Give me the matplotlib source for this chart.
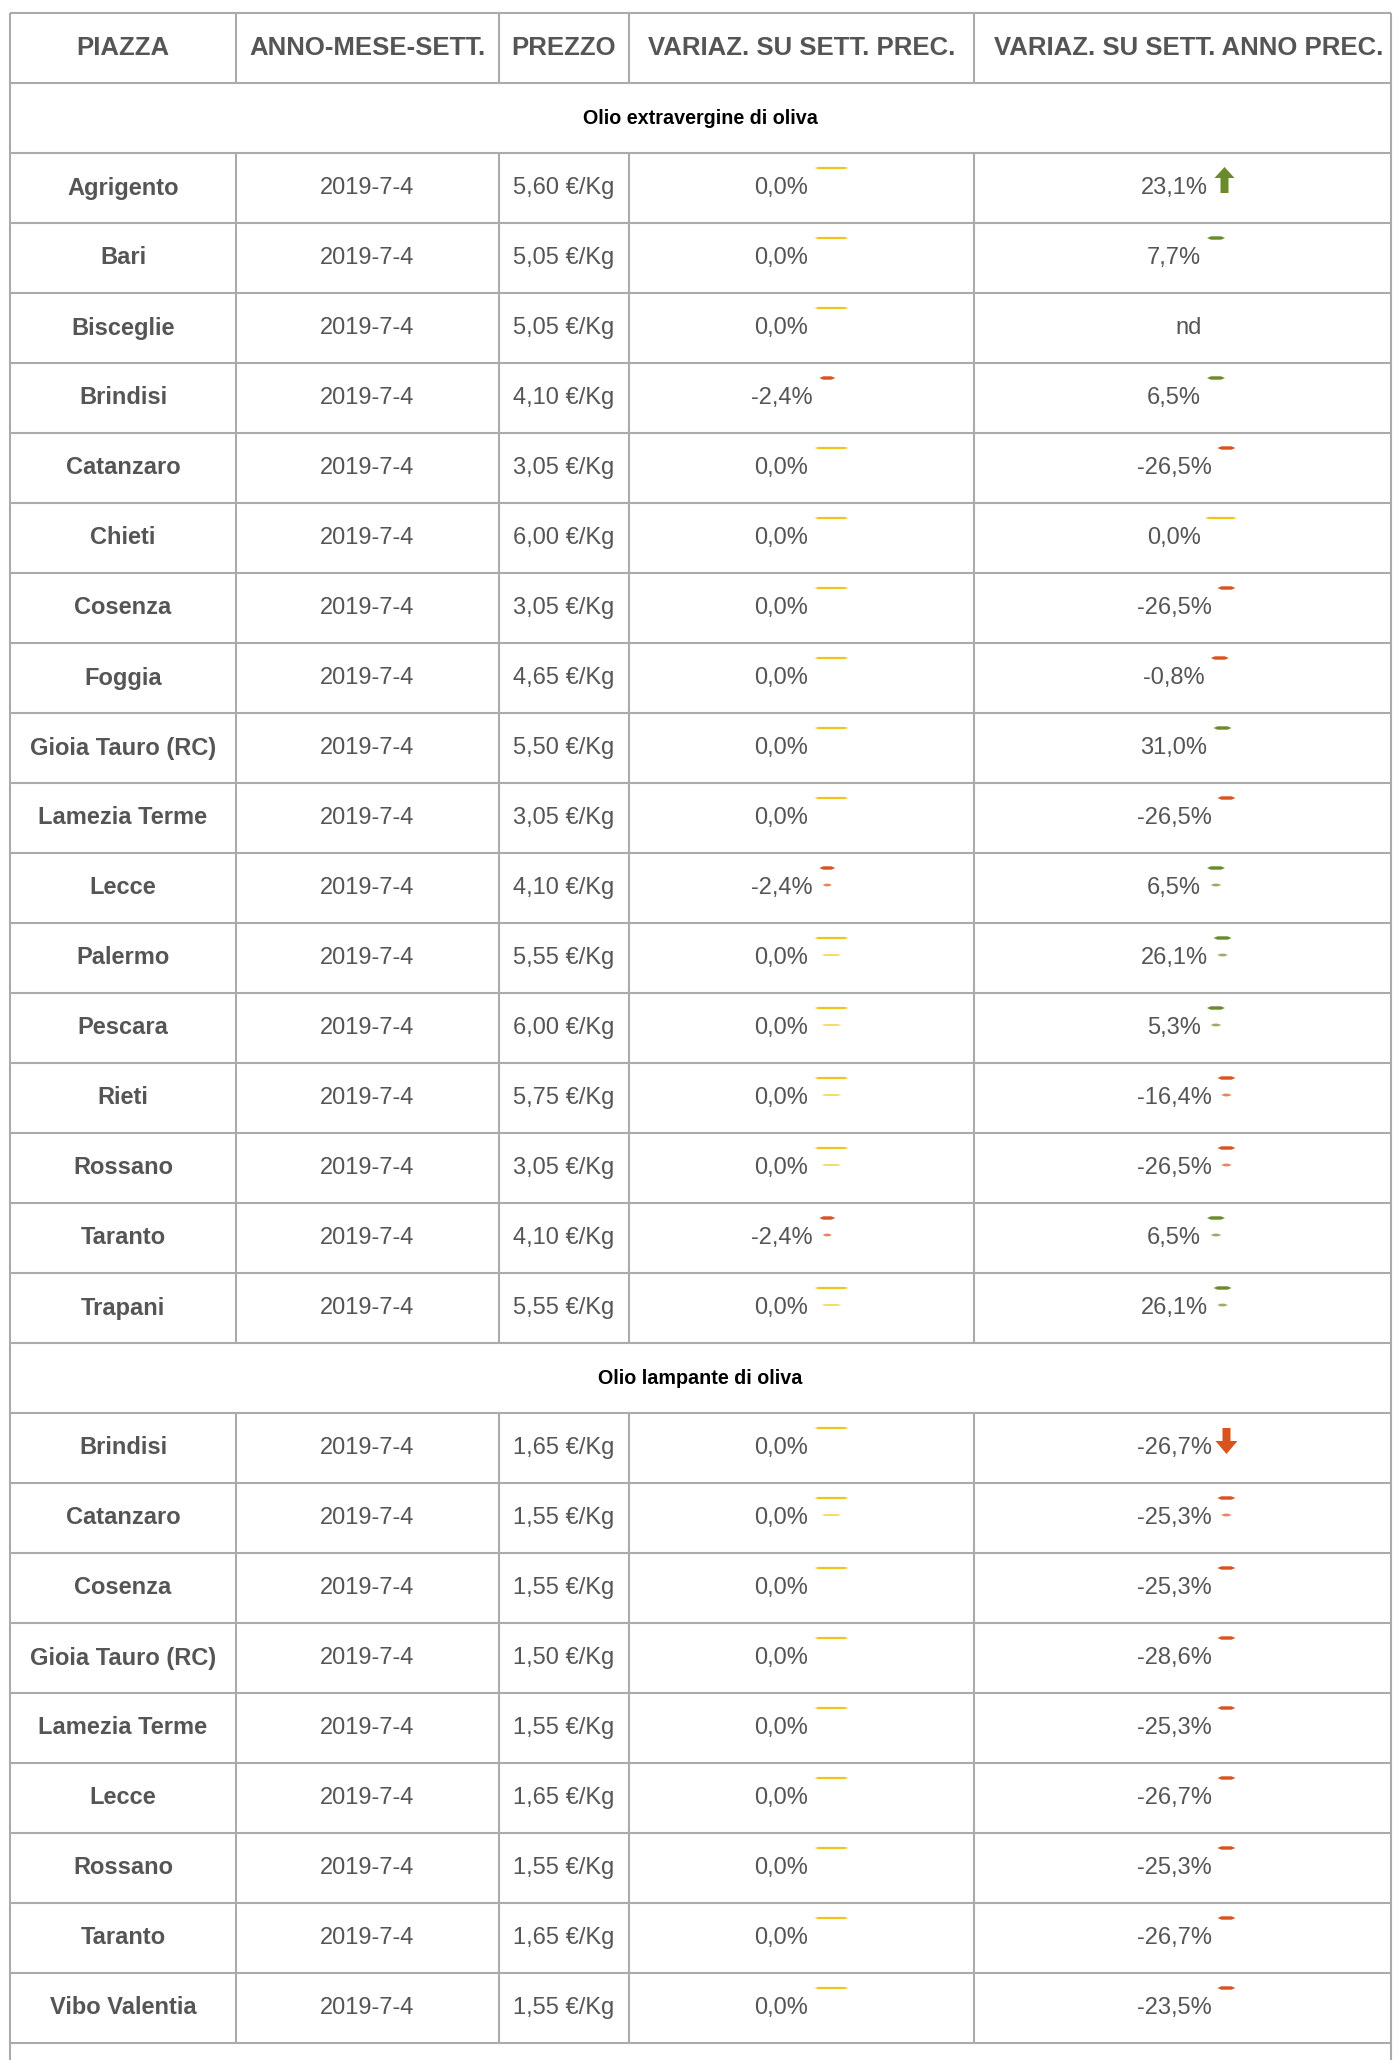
import matplotlib
matplotlib.use("Agg")
import matplotlib.pyplot as plt
from matplotlib.patches import Polygon

# column headers and section titles
intestazioni = ["PIAZZA", "ANNO-MESE-SETT.", "PREZZO",
                "VARIAZ. SU SETT. PREC.", "VARIAZ. SU SETT. ANNO PREC."]
sezioni = ["Olio extravergine di oliva", "Olio lampante di oliva"]
settimana = "2019-7-4"

# Olio extravergine di oliva
piazze_extra = ["Agrigento", "Bari", "Bisceglie", "Brindisi", "Catanzaro", "Chieti",
                "Cosenza", "Foggia", "Gioia Tauro (RC)", "Lamezia Terme", "Lecce",
                "Palermo", "Pescara", "Rieti", "Rossano", "Taranto", "Trapani"]
prezzi_extra = ["5,60", "5,05", "5,05", "4,10", "3,05", "6,00", "3,05", "4,65", "5,50",
                "3,05", "4,10", "5,55", "6,00", "5,75", "3,05", "4,10", "5,55"]
var_sett_extra = ["0,0%", "0,0%", "0,0%", "-2,4%", "0,0%", "0,0%", "0,0%", "0,0%", "0,0%",
                  "0,0%", "-2,4%", "0,0%", "0,0%", "0,0%", "0,0%", "-2,4%", "0,0%"]
var_anno_extra = ["23,1%", "7,7%", "nd", "6,5%", "-26,5%", "0,0%", "-26,5%", "-0,8%",
                  "31,0%", "-26,5%", "6,5%", "26,1%", "5,3%", "-16,4%", "-26,5%",
                  "6,5%", "26,1%"]

# Olio lampante di oliva
piazze_lamp = ["Brindisi", "Catanzaro", "Cosenza", "Gioia Tauro (RC)", "Lamezia Terme",
               "Lecce", "Rossano", "Taranto", "Vibo Valentia"]
prezzi_lamp = ["1,65", "1,55", "1,55", "1,50", "1,55", "1,65", "1,55", "1,65", "1,55"]
var_sett_lamp = ["0,0%"] * 9
var_anno_lamp = ["-26,7%", "-25,3%", "-25,3%", "-28,6%", "-25,3%", "-26,7%", "-25,3%",
                 "-26,7%", "-23,5%"]

# rows whose indicator icon is shown as a full arrow / as a doubled dash (style only)
freccia_piena = [(0, "Agrigento"), (1, "Brindisi")]
doppio_trattino = [(0, "Lecce"), (0, "Palermo"), (0, "Pescara"), (0, "Rieti"),
                   (0, "Rossano"), (0, "Taranto"), (0, "Trapani"), (1, "Catanzaro")]

plt.rcParams['font.family'] = ['Liberation Sans', 'DejaVu Sans']

GRAY = "#555555"
LINE = "#ababab"
YELLOW = "#f0c419"
GREEN = "#6b8a2b"
RED = "#d9531e"

W, H = 1394, 2060
fig = plt.figure(figsize=(W / 100, H / 100), dpi=100)
ax = fig.add_axes([0, 0, 1, 1])
ax.set_xlim(0, W)
ax.set_ylim(H, 0)
ax.axis("off")
renderer = fig.canvas.get_renderer()

xcols = [10, 236, 499, 629, 974, 1391]
centers = [123, 367.5, 564, 801.5, 1189]
img_w = [None, None, None, 40, 30]
top, rh = 13, 70
lw = 1.5


def hline(y):
    ax.plot([xcols[0], xcols[-1]], [y, y], color=LINE, lw=lw, solid_capstyle="butt")


def vlines(y0, y1):
    for x in xcols[1:-1]:
        ax.plot([x, x], [y0, y1], color=LINE, lw=lw, solid_capstyle="butt")


def trattino(xa, xb, y, t, color, alpha=1.0):
    # small lens-shaped dash, like the scaled-down icons of the page
    k = min(4, (xb - xa) / 3)
    pts = [(xa, y), (xa + k, y - t / 2), (xb - k, y - t / 2), (xb, y),
           (xb - k, y + t / 2), (xa + k, y + t / 2)]
    ax.add_patch(Polygon(pts, closed=True, color=color, lw=0, alpha=alpha))


def indicatore(x0, yc, val, col, sez, piazza):
    if val == "nd":
        return
    v = float(val.replace("%", "").replace(",", "."))
    color = YELLOW if v == 0 else (GREEN if v > 0 else RED)
    ytop = yc - 20
    if (sez, piazza) in freccia_piena and col == 4:
        if v > 0:
            pts = [(x0 + 7, ytop + 10), (x0 + 17, ytop - 1), (x0 + 27, ytop + 10),
                   (x0 + 21, ytop + 10), (x0 + 21, ytop + 25), (x0 + 13, ytop + 25),
                   (x0 + 13, ytop + 10)]
        else:
            pts = [(x0 + 11, ytop), (x0 + 19, ytop), (x0 + 19, ytop + 13),
                   (x0 + 26, ytop + 13), (x0 + 15, ytop + 26), (x0 + 4, ytop + 13),
                   (x0 + 11, ytop + 13)]
        ax.add_patch(Polygon(pts, closed=True, color=color, lw=0))
        return
    if v == 0:
        a, b, t = (6, 40, 2.2) if col == 3 else (4, 36, 2.2)
    else:
        a, b, t = (7, 23, 3.4) if col == 3 else (6, 24, 3.4)
    trattino(x0 + a, x0 + b, ytop, t, color)
    if (sez, piazza) in doppio_trattino:
        m = (a + b) / 2
        half = (b - a) * 0.3
        trattino(x0 + m - half, x0 + m + half, ytop + 17, t * 0.8, color, alpha=0.7)


def cella_var(col, yc, val, sez, piazza):
    t = ax.text(0, yc, val, ha="left", va="center", fontsize=17, color=GRAY)
    tw = t.get_window_extent(renderer).width
    if val == "nd":
        t.set_x(centers[col] - tw / 2)
        return
    x0 = centers[col] - (tw + img_w[col]) / 2
    t.set_x(x0)
    indicatore(x0 + tw, yc, val, col, sez, piazza)


# header
y = top
hline(y)
vlines(y, y + rh)
for c, txt in zip(centers, intestazioni):
    ax.text(c, y + rh / 2, txt, ha="center", va="center", fontsize=18.5,
            fontweight="bold", color=GRAY)
y += rh

dati = [
    (piazze_extra, prezzi_extra, var_sett_extra, var_anno_extra),
    (piazze_lamp, prezzi_lamp, var_sett_lamp, var_anno_lamp),
]
for s, (titolo, (piazze, prezzi, vs, va_)) in enumerate(zip(sezioni, dati)):
    hline(y)
    ax.text((xcols[0] + xcols[-1]) / 2, y + rh / 2, titolo, ha="center", va="center",
            fontsize=14.2, fontweight="bold", color="black")
    y += rh
    for p, pr, v1, v2 in zip(piazze, prezzi, vs, va_):
        hline(y)
        vlines(y, y + rh)
        yc = y + rh / 2
        ax.text(centers[0], yc, p, ha="center", va="center", fontsize=17,
                fontweight="bold", color=GRAY)
        ax.text(centers[1], yc, settimana, ha="center", va="center", fontsize=17,
                color=GRAY)
        ax.text(centers[2], yc, pr + " €/Kg", ha="center", va="center", fontsize=17,
                color=GRAY)
        cella_var(3, yc, v1, s, p)
        cella_var(4, yc, v2, s, p)
        y += rh
hline(y)

# outer borders
ax.plot([xcols[0], xcols[0]], [top, H], color=LINE, lw=lw, solid_capstyle="butt")
ax.plot([xcols[-1], xcols[-1]], [top, H], color=LINE, lw=lw, solid_capstyle="butt")

fig.savefig("out.png", dpi=100)
